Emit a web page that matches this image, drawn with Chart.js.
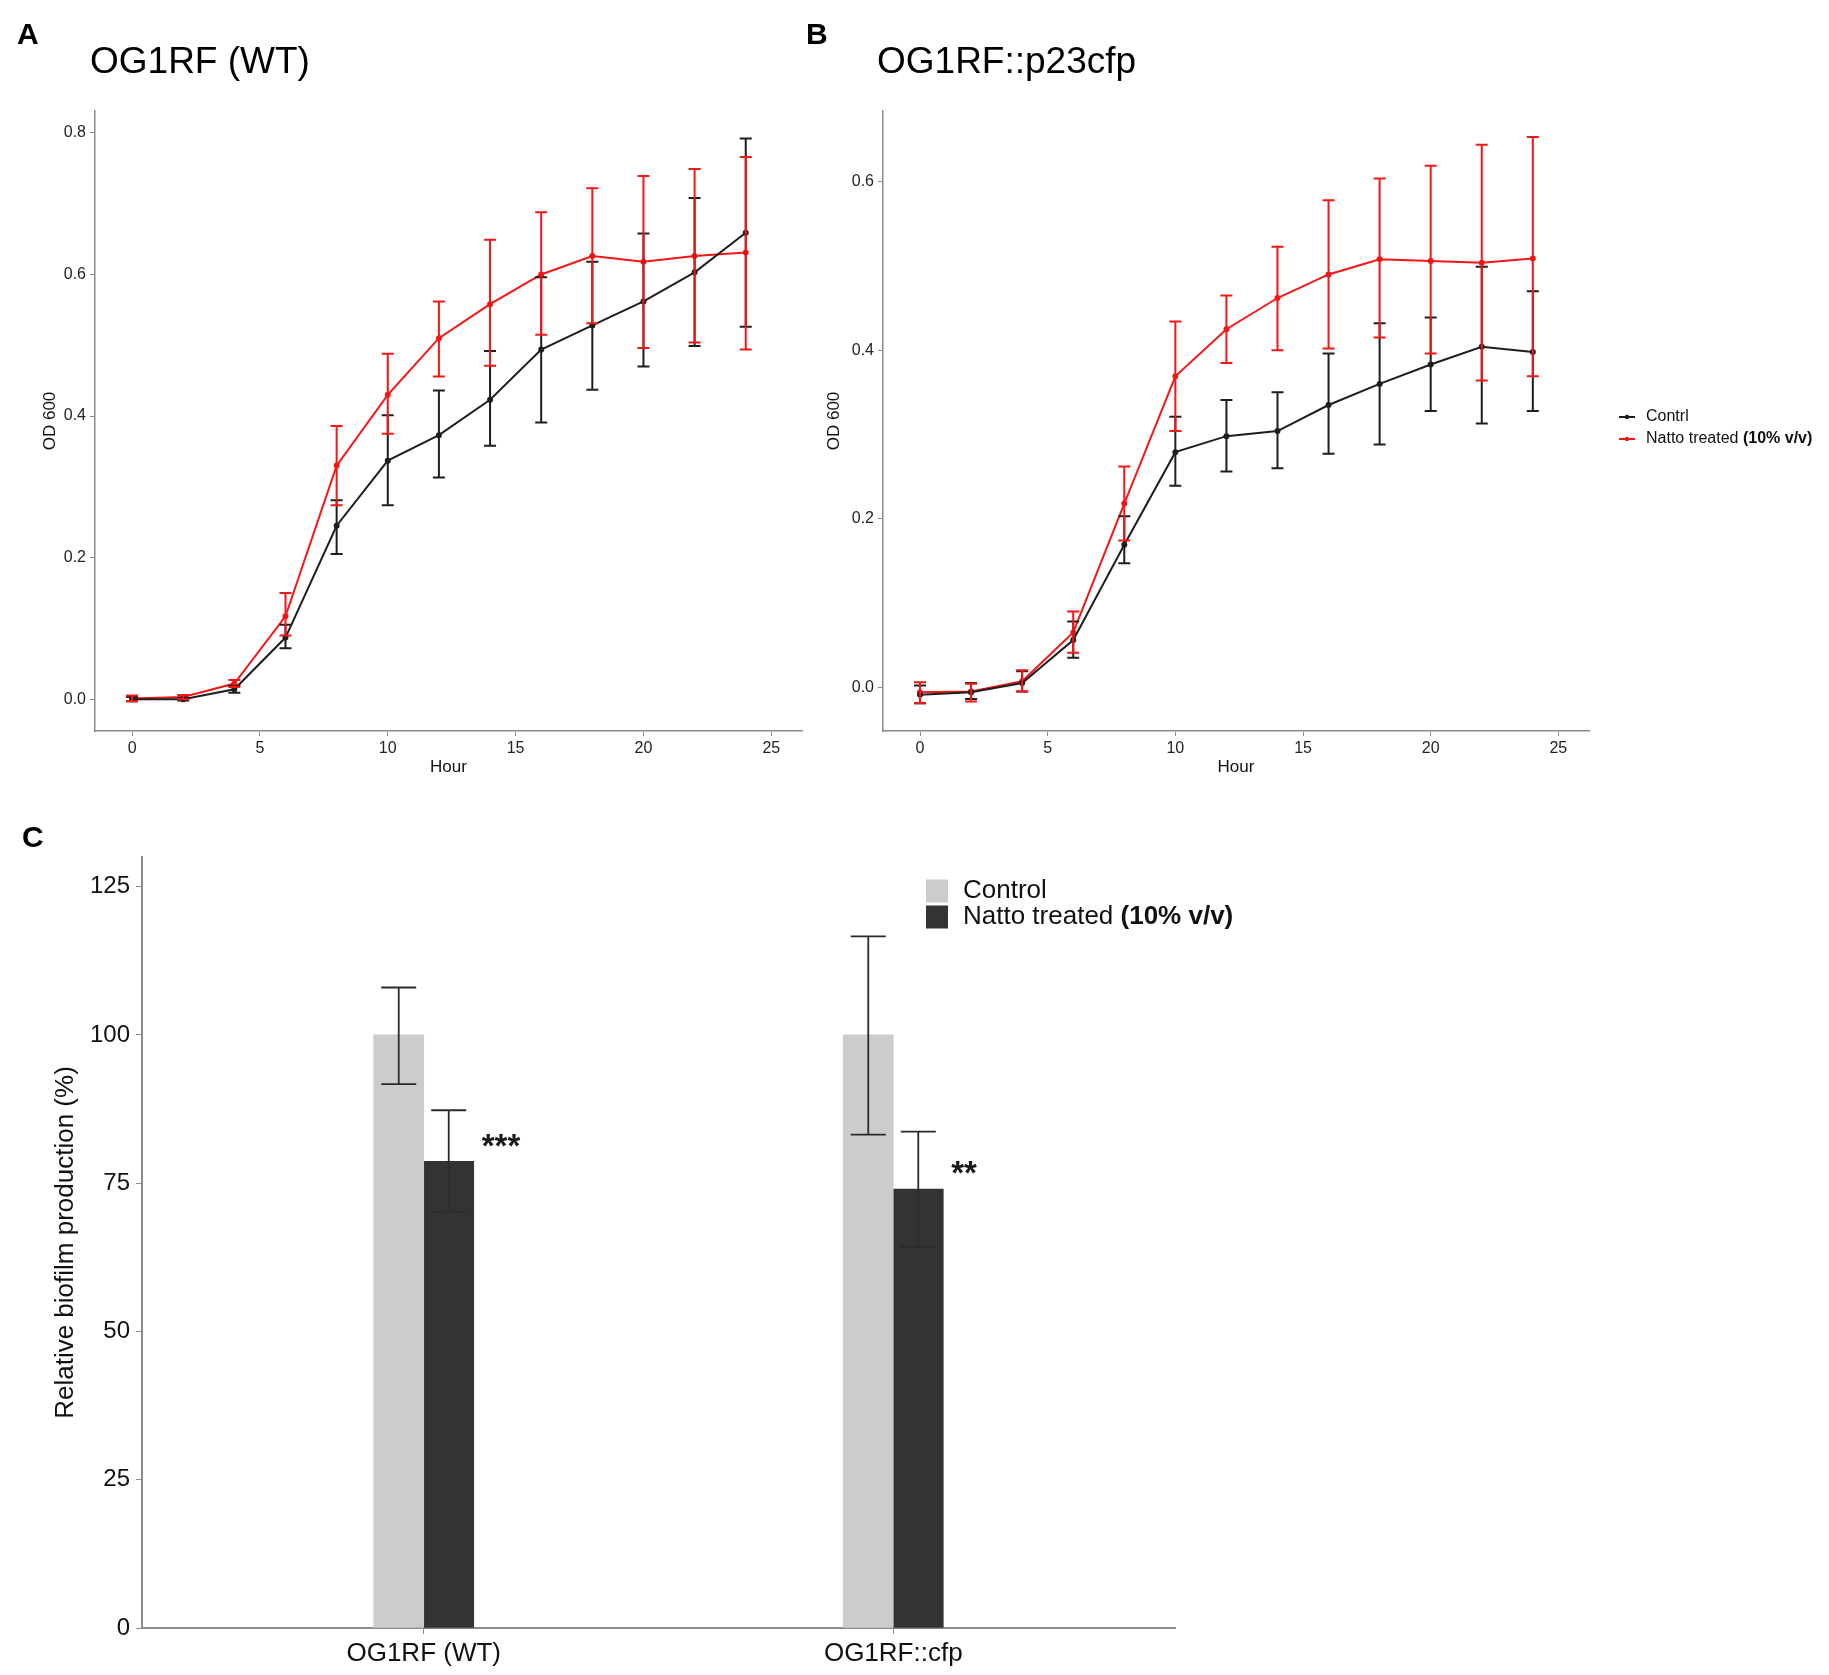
<!DOCTYPE html>
<html>
<head>
<meta charset="utf-8">
<script src="https://cdn.jsdelivr.net/npm/chart.js@4.4.1/dist/chart.umd.min.js"></script>
<style>
  body { margin: 0; background: #fff; font-family: "Liberation Sans", Arial, sans-serif; }
  #page { position: relative; width: 1829px; height: 1675px; }
  canvas { position: absolute; }
  .letter { position: absolute; font-weight: bold; font-size: 30px; line-height: 1; color: #000; }
  .title { position: absolute; font-size: 37px; line-height: 1; color: #000; white-space: nowrap; }
</style>
</head>
<body>
<div id="page">
  <canvas id="growthA" width="830" height="778" style="left:0;top:0"></canvas>
  <canvas id="growthB" width="1029" height="778" style="left:800px;top:0"></canvas>
  <canvas id="biofilm" width="1300" height="875" style="left:0;top:800px"></canvas>
  <div class="letter" style="left:17px;top:19px">A</div>
  <div class="letter" style="left:806px;top:19px">B</div>
  <div class="letter" style="left:22px;top:822px">C</div>
  <div class="title" style="left:90px;top:42px">OG1RF (WT)</div>
  <div class="title" style="left:877px;top:42px">OG1RF::p23cfp</div>
</div>
<script>
const hours = [0, 2, 4, 6, 8, 10, 12, 14, 16, 18, 20, 22, 24];
const hourTicks = [0, 5, 10, 15, 20, 25];
const seriesNames = ["Contrl", "Natto treated "];
const seriesNotes = ["", "(10% v/v)"];

// panel A - OG1RF (WT)
const wtControl   = [0.000, 0.000, 0.014, 0.087, 0.245, 0.337, 0.373, 0.423, 0.494, 0.528, 0.562, 0.603, 0.659];
const wtControlLo = [-0.003, -0.002, 0.009, 0.072, 0.205, 0.274, 0.313, 0.358, 0.391, 0.437, 0.470, 0.499, 0.526];
const wtControlHi = [0.003, 0.002, 0.019, 0.105, 0.281, 0.401, 0.436, 0.492, 0.596, 0.618, 0.658, 0.708, 0.792];
const wtNatto     = [0.001, 0.003, 0.022, 0.117, 0.330, 0.430, 0.510, 0.558, 0.600, 0.626, 0.618, 0.626, 0.631];
const wtNattoLo   = [-0.003, 0.000, 0.017, 0.090, 0.274, 0.375, 0.456, 0.471, 0.515, 0.531, 0.496, 0.504, 0.494];
const wtNattoHi   = [0.005, 0.006, 0.027, 0.150, 0.386, 0.488, 0.562, 0.649, 0.688, 0.722, 0.739, 0.749, 0.766];
const odTicksA = [0, 0.2, 0.4, 0.6, 0.8];

// panel B - OG1RF::p23cfp
const cfpControl   = [-0.009, -0.006, 0.005, 0.056, 0.169, 0.279, 0.298, 0.304, 0.335, 0.360, 0.383, 0.404, 0.398];
const cfpControlLo = [-0.019, -0.014, -0.005, 0.035, 0.147, 0.239, 0.256, 0.260, 0.277, 0.288, 0.328, 0.313, 0.328];
const cfpControlHi = [0.002, 0.005, 0.019, 0.078, 0.203, 0.321, 0.341, 0.350, 0.396, 0.432, 0.439, 0.499, 0.470];
const cfpNatto     = [-0.006, -0.005, 0.007, 0.065, 0.218, 0.369, 0.425, 0.462, 0.490, 0.508, 0.506, 0.504, 0.509];
const cfpNattoLo   = [-0.019, -0.017, -0.005, 0.041, 0.174, 0.304, 0.385, 0.400, 0.402, 0.415, 0.396, 0.364, 0.369];
const cfpNattoHi   = [0.006, 0.004, 0.020, 0.090, 0.262, 0.434, 0.465, 0.523, 0.578, 0.604, 0.619, 0.644, 0.653];
const odTicksB = [0, 0.2, 0.4, 0.6];

// panel C - biofilm
const strains = ["OG1RF (WT)", "OG1RF::cfp"];
const groupNames = ["Control", "Natto treated "];
const groupNotes = ["", "(10% v/v)"];
const biofilmControl   = [100, 100];
const biofilmControlLo = [91.7, 83.2];
const biofilmControlHi = [108.0, 116.6];
const biofilmNatto     = [78.7, 74.0];
const biofilmNattoLo   = [70.2, 64.2];
const biofilmNattoHi   = [87.3, 83.7];
const stars = ["***", "**"];
const starLevel = [82.0, 77.4];
const biofilmTicks = [0, 25, 50, 75, 100, 125];

const FONT = '"Liberation Sans", Arial, sans-serif';
const RED = "rgb(245,22,22)";
const BLACK = "#1e1e1e";
const AXIS = "#8c8c8c";

const pts = (ys) => hours.map((h, i) => ({ x: h, y: ys[i] }));

// error bars: dataset carries errLo / errHi
const errorBars = {
  id: "errorBars",
  afterDatasetsDraw(chart, args, opts) {
    const { ctx } = chart;
    const yScale = chart.scales.y;
    chart.data.datasets.forEach((ds, i) => {
      if (!ds.errLo) return;
      const meta = chart.getDatasetMeta(i);
      ctx.save();
      ctx.strokeStyle = opts.color || ds.borderColor;
      ctx.lineWidth = opts.width;
      meta.data.forEach((el, j) => {
        const x = el.x;
        const top = yScale.getPixelForValue(ds.errHi[j]);
        const bot = yScale.getPixelForValue(ds.errLo[j]);
        ctx.beginPath();
        ctx.moveTo(x, top); ctx.lineTo(x, bot);
        ctx.moveTo(x - opts.cap, top); ctx.lineTo(x + opts.cap, top);
        ctx.moveTo(x - opts.cap, bot); ctx.lineTo(x + opts.cap, bot);
        ctx.stroke();
      });
      ctx.restore();
    });
  }
};

// hand drawn legend so the "(10% v/v)" part can be bold
const sideLegend = {
  id: "sideLegend",
  afterDraw(chart, args, opts) {
    if (!opts.show) return;
    const { ctx } = chart;
    ctx.save();
    ctx.textBaseline = "middle";
    chart.data.datasets.forEach((ds, i) => {
      const y = opts.y + i * opts.gap;
      if (opts.kind === "line") {
        ctx.strokeStyle = ds.borderColor;
        ctx.lineWidth = 2;
        ctx.beginPath();
        ctx.moveTo(opts.x, y); ctx.lineTo(opts.x + 16, y);
        ctx.stroke();
        ctx.fillStyle = ds.borderColor;
        ctx.beginPath();
        ctx.arc(opts.x + 8, y, 2.2, 0, Math.PI * 2);
        ctx.fill();
      } else {
        ctx.fillStyle = ds.backgroundColor;
        ctx.fillRect(opts.x, y - opts.box / 2, opts.box - 1, opts.box);
      }
      ctx.fillStyle = "#111";
      ctx.font = opts.size + "px " + FONT;
      ctx.fillText(opts.names[i], opts.textX, y);
      if (opts.notes[i]) {
        const w = ctx.measureText(opts.names[i]).width;
        ctx.font = "bold " + opts.size + "px " + FONT;
        ctx.fillText(opts.notes[i], opts.textX + w, y);
      }
    });
    ctx.restore();
  }
};

const starMarks = {
  id: "starMarks",
  afterDatasetsDraw(chart, args, opts) {
    if (!opts.show) return;
    const { ctx } = chart;
    const meta = chart.getDatasetMeta(1);
    ctx.save();
    ctx.fillStyle = "#1a1a1a";
    ctx.font = "bold 33px " + FONT;
    ctx.textBaseline = "alphabetic";
    meta.data.forEach((el, j) => {
      const x = el.x + el.width / 2 + 8;
      const y = chart.scales.y.getPixelForValue(starLevel[j]) + 15;
      ctx.fillText(stars[j], x, y);
    });
    ctx.restore();
  }
};

function growthChart(id, control, controlLo, controlHi, natto, nattoLo, nattoHi, yMin, yMax, yTicks, opts) {
  return new Chart(document.getElementById(id), {
    type: "line",
    data: {
      datasets: [
        { label: seriesNames[0], data: pts(control), errLo: controlLo, errHi: controlHi,
          borderColor: BLACK, backgroundColor: BLACK, borderWidth: 2, pointRadius: 2, tension: 0 },
        { label: seriesNames[1], data: pts(natto), errLo: nattoLo, errHi: nattoHi,
          borderColor: RED, backgroundColor: RED, borderWidth: 2, pointRadius: 2, tension: 0 }
      ]
    },
    options: {
      responsive: false,
      animation: false,
      layout: { padding: { top: 111, right: opts.right, left: 0, bottom: 0 } },
      plugins: {
        legend: { display: false },
        tooltip: { enabled: false },
        errorBars: { width: 2, cap: 6 },
        sideLegend: { show: opts.legend, kind: "line", x: 819, textX: 846, y: 417, gap: 22,
                      size: 16, names: seriesNames, notes: seriesNotes },
        starMarks: { show: false }
      },
      scales: {
        x: {
          type: "linear", min: -1.45, max: 26.2,
          afterBuildTicks: (s) => { s.ticks = hourTicks.map(v => ({ value: v })); },
          afterFit: (s) => { s.height = 47; },
          ticks: { color: "#222", font: { family: FONT, size: 16 }, padding: 3, maxRotation: 0 },
          grid: { drawOnChartArea: false, drawTicks: true, tickLength: 5, color: AXIS },
          border: { color: AXIS, width: 1.5 },
          title: { display: true, text: "Hour", color: "#111", font: { family: FONT, size: 17 }, padding: 0 }
        },
        y: {
          min: yMin, max: yMax,
          afterBuildTicks: (s) => { s.ticks = yTicks.map(v => ({ value: v })); },
          afterFit: (s) => { s.width = opts.yWidth; },
          ticks: { color: "#222", font: { family: FONT, size: 16 }, padding: 4,
                   callback: (v) => v.toFixed(1) },
          grid: { drawOnChartArea: false, drawTicks: true, tickLength: 5, color: AXIS },
          border: { color: AXIS, width: 1.5 },
          title: { display: true, text: "OD 600", color: "#111", font: { family: FONT, size: 17 },
                   padding: { top: opts.titlePad, bottom: 0 } }
        }
      }
    },
    plugins: [errorBars, sideLegend, starMarks]
  });
}

growthChart("growthA", wtControl, wtControlLo, wtControlHi, wtNatto, wtNattoLo, wtNattoHi,
  -0.045, 0.831, odTicksA, { right: 28, yWidth: 95, titlePad: 40, legend: false });
growthChart("growthB", cfpControl, cfpControlLo, cfpControlHi, cfpNatto, cfpNattoLo, cfpNattoHi,
  -0.052, 0.684, odTicksB, { right: 240, yWidth: 83, titlePad: 24, legend: true });

new Chart(document.getElementById("biofilm"), {
  type: "bar",
  data: {
    datasets: [
      { label: groupNames[0], data: strains.map((s, i) => ({ x: i + 1, y: biofilmControl[i] })),
        errLo: biofilmControlLo, errHi: biofilmControlHi, backgroundColor: "#cccccc", borderWidth: 0 },
      { label: groupNames[1], data: strains.map((s, i) => ({ x: i + 1, y: biofilmNatto[i] })),
        errLo: biofilmNattoLo, errHi: biofilmNattoHi, backgroundColor: "#333333", borderWidth: 0 }
    ]
  },
  options: {
    responsive: false,
    animation: false,
    barThickness: 50,
    layout: { padding: { top: 57, right: 125, left: 0, bottom: 0 } },
    plugins: {
      legend: { display: false },
      tooltip: { enabled: false },
      errorBars: { width: 1.8, cap: 17.5, color: "#2b2b2b" },
      sideLegend: { show: true, kind: "box", x: 926, textX: 963, y: 91, gap: 26, box: 23,
                    size: 26, names: groupNames, notes: groupNotes },
      starMarks: { show: true }
    },
    scales: {
      x: {
        type: "linear", min: 0.4, max: 2.6, offset: false,
        afterBuildTicks: (s) => { s.ticks = strains.map((c, i) => ({ value: i + 1 })); },
        afterFit: (s) => { s.height = 47; },
        ticks: { color: "#111", font: { family: FONT, size: 26 }, padding: 4, maxRotation: 0,
                 callback: (v) => strains[v - 1] },
        grid: { drawOnChartArea: false, drawTicks: true, tickLength: 6, color: AXIS, offset: false },
        border: { color: AXIS, width: 2 }
      },
      y: {
        min: 0, max: 130,
        afterBuildTicks: (s) => { s.ticks = biofilmTicks.map(v => ({ value: v })); },
        afterFit: (s) => { s.width = 142; },
        ticks: { color: "#111", font: { family: FONT, size: 24 }, padding: 6 },
        grid: { drawOnChartArea: false, drawTicks: true, tickLength: 6, color: AXIS },
        border: { color: AXIS, width: 2 },
        title: { display: true, text: "Relative biofilm production (%)", color: "#111",
                 font: { family: FONT, size: 26 }, padding: { top: 50, bottom: 0 } }
      }
    }
  },
  plugins: [errorBars, sideLegend, starMarks]
});
</script>
</body>
</html>
